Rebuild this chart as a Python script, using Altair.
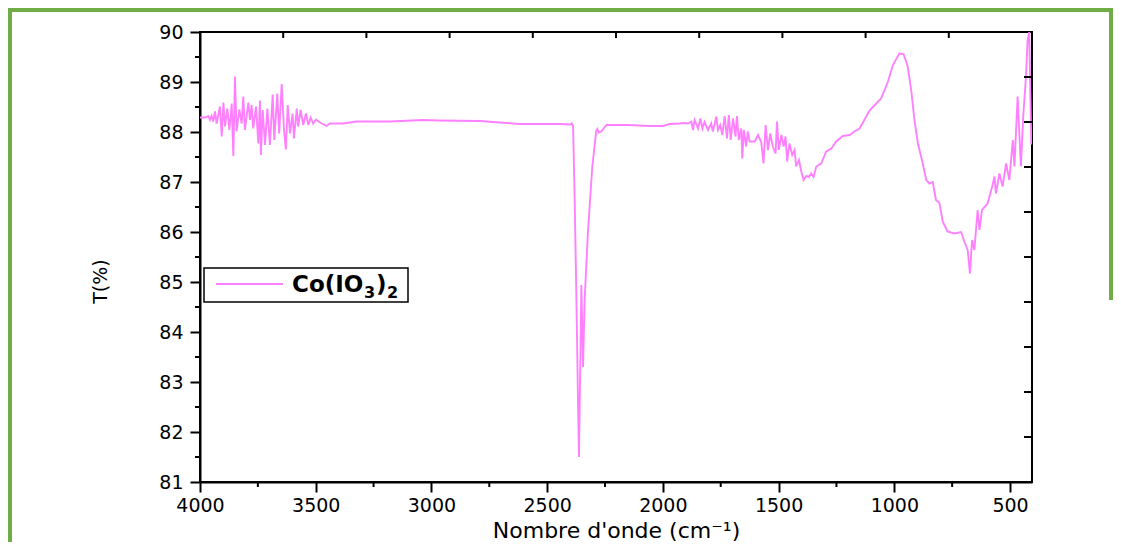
import altair as alt
import pandas as pd

# ---------------- data ----------------
wavenumber = [
    4000, 3978, 3964, 3957, 3950, 3943, 3935, 3928, 3914, 3906, 3899, 3892, 3882, 3873,
    3863, 3856, 3849, 3842, 3830, 3820, 3813, 3806, 3791, 3784, 3777, 3770, 3758, 3748,
    3741, 3737, 3729, 3719, 3709, 3698, 3686, 3679, 3666, 3658, 3647, 3637, 3629, 3621,
    3611, 3600, 3594, 3582, 3576, 3565, 3554, 3542, 3532, 3522, 3511, 3499, 3482, 3453,
    3439, 3381, 3323, 3180, 3036, 2971, 2790, 2618, 2446, 2400, 2394, 2388, 2381, 2373.5,
    2366.7, 2362.5, 2352, 2345, 2338, 2324, 2305, 2288, 2283, 2277, 2266, 2244, 2150, 2057,
    2000, 1971, 1927, 1913, 1891, 1877, 1870, 1863, 1848, 1838, 1829, 1820, 1805, 1791,
    1784, 1769, 1762, 1752, 1743, 1733, 1723, 1715, 1707, 1697, 1686, 1680, 1672, 1661,
    1657, 1650, 1640, 1633, 1625, 1603, 1589, 1575, 1565, 1556, 1546, 1536, 1525, 1513,
    1507, 1499, 1488, 1478, 1470, 1463, 1453, 1441, 1431, 1424, 1412, 1402, 1392, 1380,
    1369, 1359, 1349, 1337, 1316, 1294, 1272, 1251, 1222, 1193, 1172, 1150, 1107, 1057,
    1028, 1006, 978, 960, 942, 927, 913, 898, 877, 862, 848, 834, 820, 805,
    791, 770, 741, 711, 697, 683, 673, 664, 654, 640, 632, 621, 597, 577,
    567, 561, 546, 532, 517, 503, 488, 481, 467, 453, 443, 431, 424, 417,
    408,
]
transmittance = [
    88.29, 88.29, 88.32, 88.24, 88.32, 88.21, 88.41, 88.17, 88.51, 87.91, 88.59, 88.11, 88.47, 88.04,
    88.57, 87.52, 89.11, 88.01, 88.45, 88.17, 88.71, 88.04, 88.59, 88.24, 88.54, 88.07, 88.51, 87.77,
    88.63, 87.54, 88.44, 87.74, 88.47, 87.74, 88.75, 87.84, 88.77, 87.97, 88.96, 88.04, 87.65, 88.54,
    87.97, 88.37, 87.87, 88.47, 88.11, 88.44, 88.14, 88.37, 88.14, 88.29, 88.17, 88.25, 88.19, 88.12,
    88.17, 88.17, 88.21, 88.21, 88.24, 88.23, 88.22, 88.16, 88.16, 88.15, 88.17, 88.12, 86.64, 84.64,
    82.64, 81.50, 84.94, 83.30, 84.64, 85.98, 87.30, 88.02, 88.06, 87.99, 88.01, 88.14, 88.14, 88.12,
    88.12, 88.16, 88.17, 88.18, 88.17, 88.21, 88.04, 88.24, 88.07, 88.27, 88.07, 88.20, 88.04, 88.17,
    88.01, 88.31, 88.04, 88.14, 87.94, 88.32, 87.87, 88.34, 87.84, 88.27, 87.91, 88.32, 87.84, 88.07,
    87.47, 88.04, 87.71, 88.01, 87.81, 87.81, 87.94, 87.80, 87.37, 88.14, 87.64, 87.97, 87.71, 87.57,
    88.21, 87.64, 87.94, 87.71, 87.91, 87.41, 87.77, 87.54, 87.64, 87.31, 87.44, 87.21, 87.04, 87.12,
    87.10, 87.17, 87.10, 87.31, 87.37, 87.61, 87.67, 87.81, 87.92, 87.94, 88.01, 88.07, 88.43, 88.67,
    89.00, 89.34, 89.57, 89.56, 89.31, 88.84, 88.24, 87.77, 87.37, 87.04, 86.97, 87.00, 86.64, 86.58,
    86.21, 86.01, 85.97, 86.00, 85.80, 85.64, 85.17, 85.84, 85.64, 86.44, 86.04, 86.44, 86.57, 86.91,
    87.11, 86.77, 87.17, 86.91, 87.37, 87.04, 87.84, 87.31, 88.71, 87.31, 88.31, 89.11, 89.84, 90.00,
    87.75,
]

x_ticks = [500, 1000, 1500, 2000, 2500, 3000, 3500, 4000]
x_minor = [750, 1250, 1750, 2250, 2750, 3250, 3750]
y_ticks = [81, 82, 83, 84, 85, 86, 87, 88, 89, 90]
y_minor = [81.5, 82.5, 83.5, 84.5, 85.5, 86.5, 87.5, 88.5, 89.5]
top_ticks = [1, 2, 3, 4, 5, 6, 7, 8, 9]
right_ticks = [1, 2, 3, 4, 5, 6, 7, 8, 9]
legend_main = ["Co(IO"]
legend_sub1 = ["3"]
legend_paren = [")"]
legend_sub2 = ["2"]

x_title = "Nombre d'onde (cm⁻¹)"
y_title = "T(%)"

# ---------------- styles ----------------
FONT = "DejaVu Sans"
LINE_COLOR = "#FF80FF"
GREEN = "#70AD47"
W, H = 832, 450

xscale = alt.Scale(domain=[405, 4000], reverse=True, nice=False, zero=False)
yscale = alt.Scale(domain=[81, 90], nice=False, zero=False)

one = pd.DataFrame({"d": [0]})

spectrum = pd.DataFrame({"wn": wavenumber, "T": transmittance})

line = alt.Chart(spectrum).mark_line(color=LINE_COLOR, strokeWidth=1.9, clip=True).encode(
    x=alt.X("wn:Q", scale=xscale, axis=alt.Axis(
        values=x_ticks, format="d", title=x_title, grid=False,
        labelFont=FONT, labelFontSize=19, labelColor="black", labelPadding=4,
        labelFlush=False, labelOverlap=False,
        tickSize=10, tickWidth=2, tickColor="black",
        domainColor="black", domainWidth=2,
        titleFont=FONT, titleFontSize=22, titleFontWeight="normal", titleColor="black",
        titlePadding=5)),
    y=alt.Y("T:Q", scale=yscale, axis=alt.Axis(
        values=y_ticks, format="d", title=y_title, grid=False,
        labelFont=FONT, labelFontSize=19, labelColor="black", labelPadding=7,
        labelFlush=False, labelOverlap=False,
        tickSize=10, tickWidth=2, tickColor="black",
        domainColor="black", domainWidth=2,
        titleFont=FONT, titleFontSize=19, titleFontWeight="normal", titleColor="black",
        titleAngle=270, titleX=-100, titleY=249, titleAlign="center", titleBaseline="middle")),
    order=alt.Order("wn:Q", sort="descending"),
)

xminor = alt.Chart(pd.DataFrame({"wn": x_minor})).mark_rule(color="black", strokeWidth=2).encode(
    x=alt.X("wn:Q", scale=xscale, axis=None), y=alt.value(H), y2=alt.value(H + 5))

yminor = alt.Chart(pd.DataFrame({"T": y_minor})).mark_rule(color="black", strokeWidth=2).encode(
    y=alt.Y("T:Q", scale=yscale, axis=None), x=alt.value(-5), x2=alt.value(0))

top = alt.Chart(pd.DataFrame({"k": top_ticks})).mark_rule(color="black", strokeWidth=2).encode(
    x=alt.X("k:Q", scale=alt.Scale(domain=[0, 10], nice=False), axis=None),
    y=alt.value(0), y2=alt.value(6))

right = alt.Chart(pd.DataFrame({"k": right_ticks})).mark_rule(color="black", strokeWidth=2).encode(
    y=alt.Y("k:Q", scale=alt.Scale(domain=[0, 10], nice=False), axis=None),
    x=alt.value(W - 8), x2=alt.value(W))

# green frame of the figure
g_left = alt.Chart(one).mark_rule(color=GREEN, strokeWidth=4).encode(
    x=alt.value(-190), y=alt.value(-24), y2=alt.value(H + 60))
g_top = alt.Chart(one).mark_rule(color=GREEN, strokeWidth=4).encode(
    x=alt.value(-192), x2=alt.value(W + 81), y=alt.value(-22))
g_right = alt.Chart(one).mark_rule(color=GREEN, strokeWidth=4).encode(
    x=alt.value(W + 79), y=alt.value(-24), y2=alt.value(268))

# legend
leg_box = alt.Chart(one).mark_rect(fill="white", stroke="black", strokeWidth=1.5).encode(
    x=alt.value(4), x2=alt.value(208), y=alt.value(236), y2=alt.value(270))
leg_line = alt.Chart(one).mark_rule(color=LINE_COLOR, strokeWidth=1.8).encode(
    x=alt.value(16), x2=alt.value(83), y=alt.value(252))


def leg_text(vals, x, y, size):
    return alt.Chart(pd.DataFrame({"t": vals})).mark_text(
        font=FONT, fontSize=size, fontWeight="bold", align="left",
        baseline="alphabetic", color="black").encode(
        x=alt.value(x), y=alt.value(y), text="t:N")


leg_t1 = leg_text(legend_main, 92, 260, 23)
leg_t2 = leg_text(legend_sub1, 164, 266, 16)
leg_t3 = leg_text(legend_paren, 176, 260, 23)
leg_t4 = leg_text(legend_sub2, 187, 266, 16)

chart = alt.layer(
    g_left, g_top, g_right,
    line, xminor, yminor, top, right,
    leg_box, leg_line, leg_t1, leg_t2, leg_t3, leg_t4,
).resolve_scale(x="independent", y="independent").properties(
    width=W, height=H,
    padding={"left": 192, "top": 24, "right": 81, "bottom": 60},
    autosize=alt.AutoSizeParams(type="none"),
    background="white",
).configure_view(stroke="black", strokeWidth=2)

chart.save("out.html", embed_options={"renderer": "svg", "actions": False})
